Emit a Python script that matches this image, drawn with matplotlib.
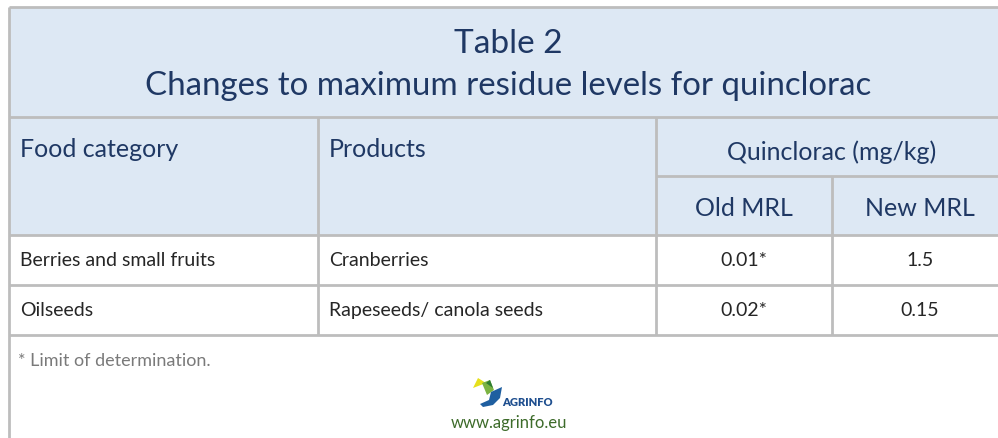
"""
Table 2 from the AGRINFO note: MRL changes for quinclorac, drawn as a table.
"""

import matplotlib.pyplot as plt
from matplotlib.patches import Rectangle, Polygon

TITLE = ["Table 2", "Changes to maximum residue levels for quinclorac"]
HEADERS = ["Food category", "Products", "Quinclorac (mg/kg)"]
SUB_HEADERS = ["Old MRL", "New MRL"]
CATEGORIES = ["Berries and small fruits", "Oilseeds"]
PRODUCTS = ["Cranberries", "Rapeseeds/ canola seeds"]
OLD_MRL = ["0.01*", "0.02*"]
NEW_MRL = ["1.5", "0.15"]
FOOTNOTE = "* Limit of determination."
URL = "www.agrinfo.eu"

FONT = "Lato"
HEAD_BG = "#dde8f4"
LINE = "#bdbdbd"
NAVY = "#1f3864"
BODY = "#262626"
GREY = "#7a7a7a"

W, H = 998, 439
# column edges and row edges in pixels (table runs off the right side)
COLS = [9, 318, 656, 832, 1008]
ROWS = [8, 118, 177, 236, 286, 336]


def main() -> None:
    fig = plt.figure(figsize=(W / 100, H / 100), dpi=100)
    ax = fig.add_axes([0, 0, 1, 1])
    ax.set_xlim(0, W)
    ax.set_ylim(H, 0)
    ax.axis("off")

    # header background
    ax.add_patch(Rectangle((COLS[0], ROWS[0]), COLS[-1] - COLS[0], ROWS[3] - ROWS[0],
                           facecolor=HEAD_BG, edgecolor="none"))

    kw = dict(color=LINE, linewidth=2.0, solid_capstyle="butt")
    # horizontal rules; the one under "Quinclorac" only spans its two columns
    for i, y in enumerate(ROWS):
        x0 = COLS[2] if i == 2 else COLS[0]
        ax.plot([x0, COLS[-1]], [y, y], **kw)
    # outer left edge, down to the bottom
    ax.plot([COLS[0], COLS[0]], [ROWS[0], H], **kw)
    # inner column rules
    for x in COLS[1:3]:
        ax.plot([x, x], [ROWS[1], ROWS[-1]], **kw)
    ax.plot([COLS[3], COLS[3]], [ROWS[2], ROWS[-1]], **kw)

    cx = (COLS[0] + COLS[-1]) / 2
    ax.text(cx, 44, TITLE[0], ha="center", va="center", fontsize=24,
            family=FONT, color=NAVY)
    ax.text(cx, 86, TITLE[1], ha="center", va="center", fontsize=23.8,
            family=FONT, color=NAVY)

    pad = 11
    hs = 18
    ax.text(COLS[0] + pad, 150, HEADERS[0], ha="left", va="center",
            fontsize=hs, family=FONT, color=NAVY)
    ax.text(COLS[1] + pad, 150, HEADERS[1], ha="left", va="center",
            fontsize=hs, family=FONT, color=NAVY)
    ax.text((COLS[2] + COLS[4]) / 2, 152, HEADERS[2], ha="center", va="center",
            fontsize=hs, family=FONT, color=NAVY)
    for i, sub in enumerate(SUB_HEADERS):
        ax.text((COLS[2 + i] + COLS[3 + i]) / 2, 209, sub, ha="center",
                va="center", fontsize=hs, family=FONT, color=NAVY)

    bs = 14
    for r, (cat, prod, old, new) in enumerate(zip(CATEGORIES, PRODUCTS, OLD_MRL, NEW_MRL)):
        y = (ROWS[3 + r] + ROWS[4 + r]) / 2
        ax.text(COLS[0] + pad, y, cat, ha="left", va="center", fontsize=bs,
                family=FONT, color=BODY)
        ax.text(COLS[1] + pad, y, prod, ha="left", va="center", fontsize=bs,
                family=FONT, color=BODY)
        ax.text((COLS[2] + COLS[3]) / 2, y, old, ha="center", va="center",
                fontsize=bs, family=FONT, color=BODY)
        ax.text((COLS[3] + COLS[4]) / 2, y, new, ha="center", va="center",
                fontsize=bs, family=FONT, color=BODY)

    ax.text(COLS[0] + 9, 361, FOOTNOTE, ha="left", va="center", fontsize=13,
            family=FONT, color=GREY)

    # rough AGRINFO mark
    ax.add_patch(Polygon([(473, 389), (478, 379), (486, 384)], closed=True,
                         facecolor="#e6e01c", edgecolor="none"))
    ax.add_patch(Polygon([(482, 384), (490, 381), (494, 391), (487, 396)],
                         closed=True, facecolor="#7bb342", edgecolor="none"))
    ax.add_patch(Polygon([(486, 384), (490, 381), (493, 389)],
                         closed=True, facecolor="#2e7d32", edgecolor="none"))
    ax.add_patch(Polygon([(480, 405), (489, 401), (491, 393), (502, 388),
                          (500, 399), (493, 406), (483, 408)], closed=True,
                         facecolor="#1f5fa0", edgecolor="none"))
    ax.text(502, 403, "AGRINFO", ha="left", va="center", fontsize=8,
            family=FONT, weight="heavy", color="#1f4f8f")
    ax.text(509, 423, URL, ha="center", va="center", fontsize=12,
            family=FONT, color="#3d6b2a")

    fig.savefig("out.png", dpi=100, facecolor="white")


if __name__ == "__main__":
    main()
